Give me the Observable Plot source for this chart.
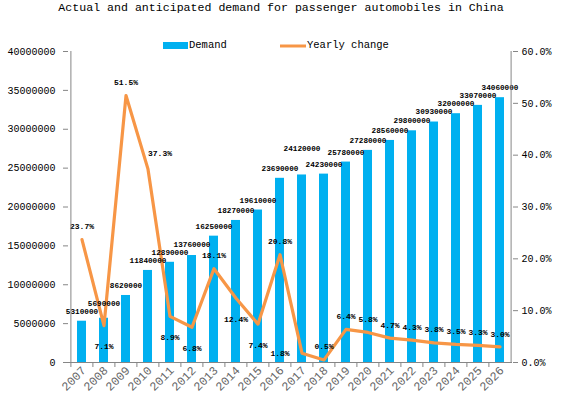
<!DOCTYPE html>
<html>
<head>
<meta charset="utf-8">
<script src="https://cdn.jsdelivr.net/npm/d3@7"></script>
<script src="https://cdn.jsdelivr.net/npm/@observablehq/plot@0.6"></script>
<style>
  html, body { margin: 0; padding: 0; background: #fff; }
  svg { display: block; }
</style>
</head>
<body>
<div id="chart"></div>
<script>
const years = ["2007","2008","2009","2010","2011","2012","2013","2014","2015","2016","2017","2018","2019","2020","2021","2022","2023","2024","2025","2026"];
const demand = [5310000,5690000,8620000,11840000,12890000,13760000,16250000,18270000,19610000,23690000,24120000,24230000,25780000,27280000,28560000,29800000,30930000,32000000,33070000,34060000];
const yearlyChange = [23.7,7.1,51.5,37.3,8.9,6.8,18.1,12.4,7.4,20.8,1.8,0.5,6.4,5.8,4.7,4.3,3.8,3.5,3.3,3.0];
const leftTicks = [0,5000000,10000000,15000000,20000000,25000000,30000000,35000000,40000000];
const rightTicks = [0,10,20,30,40,50,60];
const title = "Actual and anticipated demand for passenger automobiles in China";
const seriesNames = ["Demand", "Yearly change"];

const LEFT_MAX = 40000000, RIGHT_MAX = 60;
const toLeft = p => p / RIGHT_MAX * LEFT_MAX;

const W = 562, H = 400, mL = 68, mR = 50, mT = 51, mB = 38;
const step = (W - mL - mR) / years.length;
const FONT = "'Liberation Mono', 'DejaVu Sans Mono', monospace";
const BLUE = "#00B0F0", ORANGE = "#F79646", GRAY = "#868686";

const rows = years.map((y, i) => ({year: y, demand: demand[i], pct: yearlyChange[i], pctY: toLeft(yearlyChange[i]), i}));

// label placement (style): above / below / left / right
const place = {"2008":"below","2010":"right","2011":"below","2012":"below","2014":"below","2015":"below","2017":"left"};
const pdx = d => place[d.year] === "right" ? 12 : place[d.year] === "left" ? -22 : 0;
const pdy = d => place[d.year] === "below" ? 21 : place[d.year] === "right" ? -16 : place[d.year] === "left" ? 0 : -13;
const barLift = {"2008": 5, "2012": 1, "2017": 16};

function pctTexts(filter, dx, dy) {
  return Plot.text(rows.filter(filter), {x: "year", y: "pctY", text: d => d.pct.toFixed(1) + "%", dx, dy,
    fontSize: 8, fontWeight: "bold", fill: "#000"});
}

const chart = Plot.plot({
  width: W, height: H,
  marginLeft: mL, marginRight: mR, marginTop: mT, marginBottom: mB,
  style: {fontFamily: FONT, background: "#fff", overflow: "visible"},
  x: {domain: years, paddingInner: 0.6, paddingOuter: 0.3, label: null},
  y: {domain: [0, LEFT_MAX], label: null},
  marks: [
    Plot.barY(rows, {x: "year", y: "demand", fill: BLUE}),
    Plot.line(rows, {x: "year", y: "pctY", stroke: ORANGE, strokeWidth: 3.2, strokeLinejoin: "round"}),
    // bar labels
    ...rows.map(d => Plot.text([d], {x: "year", y: "demand", text: r => String(r.demand), dy: -10 - (barLift[d.year] || 0),
      fontSize: 7.7, fontWeight: "bold", fill: "#000"})),
    // percentage labels
    ...rows.map(d => pctTexts(r => r.year === d.year, pdx(d), pdy(d))),
    // axis lines
    Plot.ruleY([0], {stroke: GRAY}),
    Plot.ruleX([years[0]], {dx: -step / 2, stroke: GRAY}),
    Plot.ruleX([years[years.length - 1]], {dx: step / 2, stroke: GRAY}),
    // left axis
    Plot.axisY({anchor: "left", ticks: leftTicks, tickFormat: d => String(d), tickSize: 5, tickPadding: 8,
      fontSize: 10, stroke: GRAY, color: "#000", label: null}),
    // right axis
    Plot.axisY({anchor: "right", ticks: rightTicks.map(toLeft), tickFormat: d => (d / LEFT_MAX * RIGHT_MAX).toFixed(1) + "%",
      tickSize: 5, tickPadding: 4, fontSize: 10, stroke: GRAY, label: null}),
    // x ticks at category boundaries
    Plot.axisX({tickSize: 5, text: null, dx: -step / 2, stroke: GRAY, label: null}),
    // x labels
    Plot.axisX({tickSize: 0, tickPadding: 6, tickRotate: -45, fontSize: 12, label: null, fill: "#666", dx: 2})
  ]
});

const svg = d3.select(chart);
// title
svg.append("text").attr("x", W / 2).attr("y", 8).attr("text-anchor", "middle").attr("dominant-baseline", "middle")
  .attr("font-family", FONT).attr("font-size", 11.6).attr("fill", "#000").text(title);
// legend
const lg = svg.append("g").attr("font-family", FONT).attr("font-size", 10.5).attr("fill", "#000").attr("text-anchor", "start");
lg.append("rect").attr("x", 163).attr("y", 42).attr("width", 25).attr("height", 7).attr("fill", BLUE);
lg.append("text").attr("x", 189).attr("y", 45).attr("dominant-baseline", "middle").text(seriesNames[0]);
lg.append("line").attr("x1", 280).attr("x2", 306).attr("y1", 46).attr("y2", 46).attr("stroke", ORANGE).attr("stroke-width", 3);
lg.append("text").attr("x", 307).attr("y", 45).attr("dominant-baseline", "middle").text(seriesNames[1]);

document.getElementById("chart").appendChild(chart);
</script>
</body>
</html>
